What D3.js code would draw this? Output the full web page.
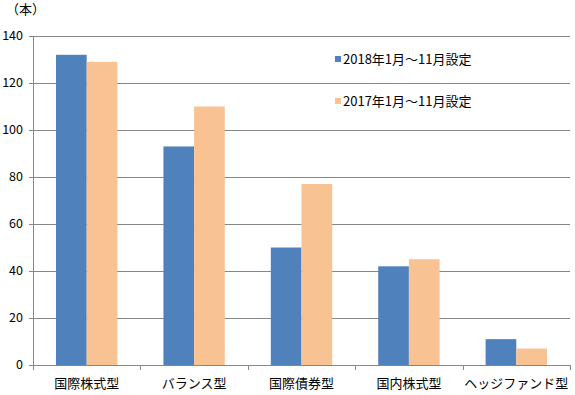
<!DOCTYPE html>
<html>
<head>
<meta charset="utf-8">
<script src="https://cdn.jsdelivr.net/npm/d3@7"></script>
<style>
  body { margin: 0; background: #fff; }
  text { font-family: "Noto Sans CJK JP", "Noto Sans", sans-serif; }
</style>
</head>
<body>
<div id="chart"></div>
<script>
const categories = ["国際株式型", "バランス型", "国際債券型", "国内株式型", "ヘッジファンド型"];
const seriesNames = ["2018年1月～11月設定", "2017年1月～11月設定"];
const values2018 = [132, 93, 50, 42, 11];
const values2017 = [129, 110, 77, 45, 7];
const yTicks = [0, 20, 40, 60, 80, 100, 120, 140];
const colors = ["#4f81bd", "#f9c293"];

const width = 575, height = 395;
const margin = { top: 36, right: 5, bottom: 30, left: 33 };

const svg = d3.select("#chart").append("svg")
    .attr("width", width)
    .attr("height", height);

const x = d3.scaleBand()
    .domain(categories)
    .range([margin.left, width - margin.right])
    .paddingInner(0)
    .paddingOuter(0);

const inner = d3.scaleBand()
    .domain([0, 1])
    .range([0, x.bandwidth()])
    .paddingInner(0)
    .paddingOuter(0.75);

const y = d3.scaleLinear()
    .domain([0, 140])
    .range([height - margin.bottom, margin.top]);

// grid lines
svg.append("g")
    .selectAll("line")
    .data(yTicks)
    .join("line")
    .attr("x1", margin.left - 4)
    .attr("x2", width - margin.right)
    .attr("y1", d => Math.round(y(d)) + 0.5)
    .attr("y2", d => Math.round(y(d)) + 0.5)
    .attr("stroke", "#868686")
    .attr("stroke-width", 1);

// y labels
svg.append("g")
    .selectAll("text")
    .data(yTicks)
    .join("text")
    .attr("x", margin.left - 10)
    .attr("y", d => y(d))
    .attr("dy", "0.35em")
    .attr("text-anchor", "end")
    .attr("font-size", 12.5)
    .attr("fill", "#000")
    .text(d => d);

svg.append("text")
    .attr("x", 6)
    .attr("y", 14)
    .attr("font-size", 13)
    .text("（本）");

// bars
const series = [values2018, values2017];
series.forEach((vals, si) => {
    svg.append("g")
        .selectAll("rect")
        .data(vals)
        .join("rect")
        .attr("x", (d, i) => x(categories[i]) + inner(si))
        .attr("width", inner.bandwidth())
        .attr("y", d => y(d))
        .attr("height", d => y(0) - y(d))
        .attr("fill", colors[si]);
});

// y axis line
svg.append("line")
    .attr("x1", margin.left + 0.5)
    .attr("x2", margin.left + 0.5)
    .attr("y1", margin.top)
    .attr("y2", y(0))
    .attr("stroke", "#868686");

// x axis ticks
const xTickPos = categories.map(c => x(c)).concat([x.range()[1]]);
svg.append("g")
    .selectAll("line")
    .data(xTickPos)
    .join("line")
    .attr("x1", d => Math.round(d) + 0.5)
    .attr("x2", d => Math.round(d) + 0.5)
    .attr("y1", Math.round(y(0)))
    .attr("y2", Math.round(y(0)) + 5)
    .attr("stroke", "#868686");

svg.append("g")
    .selectAll("text")
    .data(categories)
    .join("text")
    .attr("x", d => x(d) + x.bandwidth() / 2)
    .attr("y", y(0) + 23)
    .attr("text-anchor", "middle")
    .attr("font-size", 13)
    .text(d => d);

// legend
const legend = svg.append("g")
    .selectAll("g")
    .data(seriesNames)
    .join("g")
    .attr("transform", (d, i) => `translate(335, ${59 + i * 42})`);

legend.append("rect")
    .attr("x", 0)
    .attr("y", -3)
    .attr("width", 6)
    .attr("height", 6)
    .attr("fill", (d, i) => colors[i]);

legend.append("text")
    .attr("x", 8)
    .attr("y", 0)
    .attr("dy", "0.35em")
    .attr("font-size", 13)
    .text(d => d);
</script>
</body>
</html>
